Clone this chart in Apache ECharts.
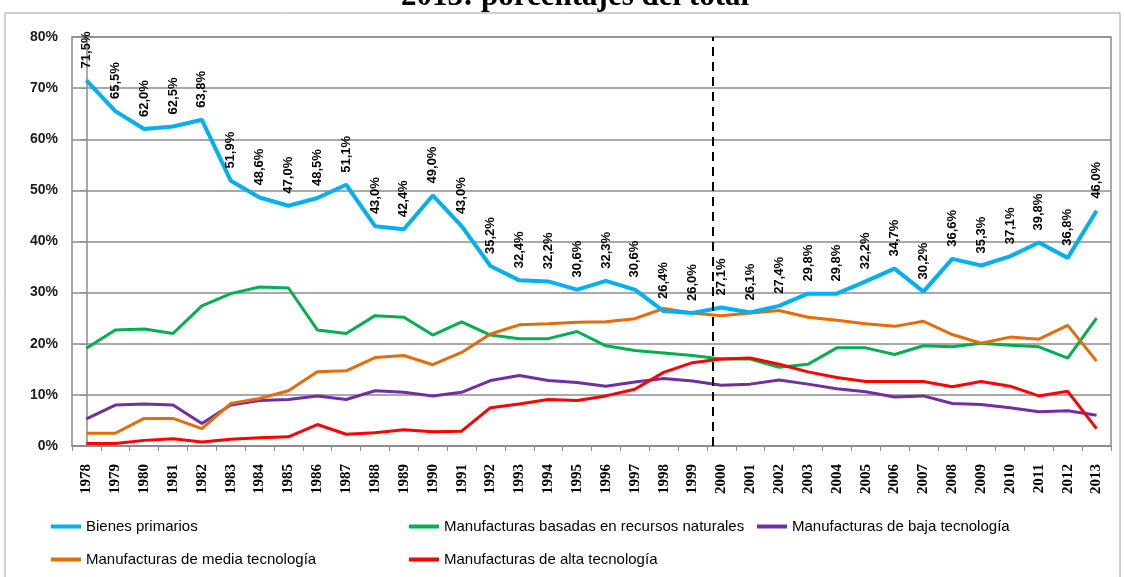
<!DOCTYPE html>
<html lang="es">
<head>
    <meta charset="UTF-8">
    <title>Exportaciones por intensidad tecnológica</title>
    <script src="https://cdn.jsdelivr.net/npm/echarts@6/dist/echarts.min.js"></script>
    <style>
        html, body { margin: 0; padding: 0; background: #fff; }
        #main { width: 1124px; height: 577px; }
    </style>
</head>
<body>
<div id="main"></div>
<script>
    // años
    var years = ['1978','1979','1980','1981','1982','1983','1984','1985','1986','1987','1988','1989',
        '1990','1991','1992','1993','1994','1995','1996','1997','1998','1999','2000','2001',
        '2002','2003','2004','2005','2006','2007','2008','2009','2010','2011','2012','2013'];

    // series (% del total)
    var bienesPrimarios = [71.5,65.5,62.0,62.5,63.8,51.9,48.6,47.0,48.5,51.1,43.0,42.4,
        49.0,43.0,35.2,32.4,32.2,30.6,32.3,30.6,26.4,26.0,27.1,26.1,
        27.4,29.8,29.8,32.2,34.7,30.2,36.6,35.3,37.1,39.8,36.8,46.0];
    var recursosNaturales = [19.1,22.7,22.9,22.0,27.4,29.8,31.1,30.9,22.7,22.0,25.5,25.2,
        21.7,24.3,21.7,21.0,21.0,22.4,19.6,18.7,18.2,17.7,17.0,17.0,
        15.4,16.0,19.2,19.2,17.9,19.6,19.4,20.1,19.7,19.4,17.2,25.0];
    var bajaTecnologia = [5.3,8.0,8.2,8.0,4.4,8.0,8.9,9.1,9.8,9.1,10.8,10.5,
        9.8,10.5,12.8,13.8,12.8,12.4,11.7,12.5,13.2,12.7,11.9,12.1,
        12.9,12.1,11.2,10.6,9.6,9.8,8.3,8.1,7.5,6.7,6.9,6.0];
    var mediaTecnologia = [2.5,2.5,5.4,5.4,3.4,8.3,9.3,10.8,14.5,14.7,17.3,17.7,
        15.9,18.3,21.9,23.7,23.9,24.2,24.3,24.9,26.9,26.0,25.5,26.0,
        26.5,25.2,24.6,23.9,23.4,24.4,21.8,20.1,21.3,20.9,23.6,16.6];
    var altaTecnologia = [0.5,0.5,1.1,1.4,0.8,1.3,1.6,1.8,4.2,2.3,2.6,3.2,
        2.8,2.9,7.5,8.2,9.1,8.9,9.8,11.1,14.4,16.3,17.0,17.2,
        16.0,14.5,13.4,12.6,12.6,12.6,11.6,12.6,11.7,9.8,10.7,3.4];

    var seriesNames = ['Bienes primarios', 'Manufacturas basadas en recursos naturales',
        'Manufacturas de baja tecnología', 'Manufacturas de media tecnología',
        'Manufacturas de alta tecnología'];
    var colors = ['#00b0f0', '#00b050', '#7030a0', '#e46c0a', '#ff0000'];
    var dividerPos = 21.7; // línea punteada entre 1999 y 2000

    var myChart = echarts.init(document.getElementById('main'));

    var gray = '#8c8c8c';
    var legendFont = { fontSize: 15, color: '#000', fontFamily: 'Liberation Sans Narrow, Liberation Sans, sans-serif' };

    function legendAt(name, left, top) {
        return {
            data: [name], left: left, top: top, icon: 'rect',
            itemWidth: 30, itemHeight: 4, itemGap: 4,
            textStyle: legendFont, selectedMode: false
        };
    }

    function lineSeries(name, data, color, width) {
        return {
            name: name, type: 'line', data: data,
            symbol: 'none', smooth: false,
            lineStyle: { color: color, width: width },
            itemStyle: { color: color },
            z: 3
        };
    }

    var first = lineSeries(seriesNames[0], bienesPrimarios, colors[0], 4);
    first.z = 4;
    first.symbol = 'circle';
    first.symbolSize = 0.1;
    first.showSymbol = true;
    first.label = {
        show: true, position: 'top', distance: 12, rotate: 90,
        align: 'left', verticalAlign: 'middle',
        fontSize: 13, fontWeight: 'bold', color: '#000',
        fontFamily: 'Liberation Sans Narrow, Liberation Sans, Arial, sans-serif',
        formatter: function (p) { return p.value.toFixed(1).replace('.', ',') + '%'; }
    };
    first.labelLayout = { hideOverlap: false };

    var option = {
        animation: false,
        title: {
            text: '2013: porcentajes del total',
            left: 396, top: -24,
            textStyle: { fontFamily: 'Liberation Serif, Times New Roman, serif', fontWeight: 'bold', fontSize: 31, color: '#000' }
        },
        graphic: [{
            type: 'rect', shape: { x: 5, y: 13, width: 1115, height: 570 },
            style: { fill: 'none', stroke: '#a0a0a0', lineWidth: 1 }, silent: true
        }],
        legend: [
            legendAt(seriesNames[0], 46, 514),
            legendAt(seriesNames[1], 404, 514),
            legendAt(seriesNames[2], 752, 514),
            legendAt(seriesNames[3], 46, 547),
            legendAt(seriesNames[4], 404, 547)
        ],
        grid: {
            left: 72, right: 13, top: 37, bottom: 131,
            show: true, borderColor: gray, borderWidth: 1.5, backgroundColor: 'transparent'
        },
        xAxis: [{
            type: 'category', data: years, boundaryGap: true,
            axisLine: { lineStyle: { color: gray, width: 1.5 } },
            axisTick: { show: true, length: 5, lineStyle: { color: gray } },
            axisLabel: {
                interval: 0, rotate: 90, margin: 18, color: '#000',
                fontFamily: 'Liberation Serif, Times New Roman, serif', fontWeight: 'bold', fontSize: 15
            }
        }, {
            type: 'value', min: -0.5, max: 35.5, show: false
        }],
        yAxis: {
            type: 'value', min: 0, max: 80, interval: 10,
            axisLine: { show: true, lineStyle: { color: gray, width: 1.5 } },
            axisTick: { show: true, length: 6, lineStyle: { color: gray } },
            axisLabel: {
                formatter: '{value}%', color: '#1a1a1a', margin: 14,
                fontFamily: 'Liberation Sans, Arial, sans-serif', fontWeight: 'bold', fontSize: 14
            },
            splitLine: { lineStyle: { color: gray, width: 1.5 } }
        },
        series: [
            first,
            lineSeries(seriesNames[1], recursosNaturales, colors[1], 3),
            lineSeries(seriesNames[2], bajaTecnologia, colors[2], 3),
            lineSeries(seriesNames[3], mediaTecnologia, colors[3], 3),
            lineSeries(seriesNames[4], altaTecnologia, colors[4], 3),
            {
                name: 'divisor', type: 'line', xAxisIndex: 1, data: [],
                markLine: {
                    silent: true, symbol: 'none', label: { show: false },
                    lineStyle: { color: '#000', type: [9, 6], width: 2 },
                    data: [{ xAxis: dividerPos }]
                }
            }
        ]
    };

    myChart.setOption(option);
</script>
</body>
</html>
